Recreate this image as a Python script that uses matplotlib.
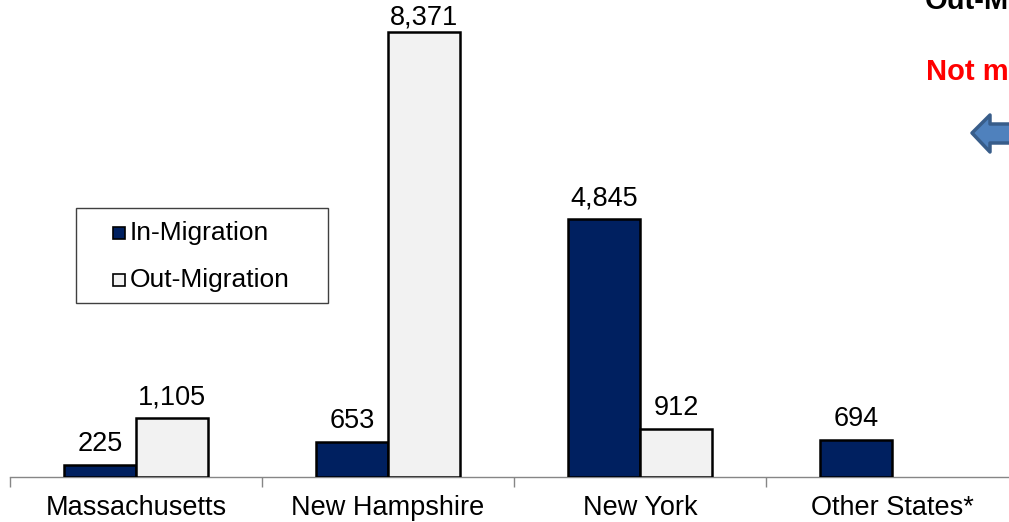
import numpy as np
import matplotlib
matplotlib.use("Agg")
import matplotlib.pyplot as plt
from matplotlib.patches import Rectangle, Polygon

categories = ["Massachusetts", "New Hampshire", "New York", "Other States*"]
in_migration = [225, 653, 4845, 694]
out_migration = [1105, 8371, 912, np.nan]
series_names = ["In-Migration", "Out-Migration"]

plt.rcParams['font.family'] = ['Liberation Sans', 'DejaVu Sans']

W, H = 1009, 522
fig = plt.figure(figsize=(W / 100, H / 100), dpi=100)
fig.patch.set_facecolor('white')

def fx(px):
    return px / W

def fy(py):
    return 1 - py / H

ax = fig.add_axes([fx(10), 45 / H, 1008 / W, 478.4 / H])
ax.set_xlim(-0.5, 3.5)
ax.set_ylim(0, 9000)

navy = '#002060'
light = '#F2F2F2'
bw = 72 / 252
x = np.arange(len(categories))

bars_in = ax.bar(x - bw / 2, in_migration, width=bw, color=navy,
                 edgecolor='black', linewidth=1.8, zorder=3)
bars_out = ax.bar(x + bw / 2, out_migration, width=bw, color=light,
                  edgecolor='black', linewidth=1.8, zorder=3)

vmax = np.nanmax(out_migration + in_migration)
for bars, vals in ((bars_in, in_migration), (bars_out, out_migration)):
    for b, v in zip(bars, vals):
        if np.isnan(v):
            continue
        off = 2 if v == vmax else 8
        ax.annotate(f"{int(v):,}", (b.get_x() + b.get_width() / 2, v),
                    xytext=(0, off), textcoords='offset pixels',
                    ha='center', va='bottom', fontsize=19.5, color='black',
                    annotation_clip=False)

for s in ('top', 'left', 'right'):
    ax.spines[s].set_visible(False)
ax.spines['bottom'].set_color('#868686')
ax.spines['bottom'].set_linewidth(1.0)
ax.set_yticks([])
ax.set_xticks(x)
ax.set_xticklabels(categories, fontsize=19.5)
ax.tick_params(axis='x', which='major', length=0, pad=13)
ax.set_xticks(np.arange(-0.5, 4.0, 1.0), minor=True)
ax.tick_params(axis='x', which='minor', length=7.5, width=1.0, color='#868686')

# legend (manual)
fig.patches.append(Rectangle((fx(76), fy(303)), fx(328) - fx(76), fy(208) - fy(303),
                             transform=fig.transFigure, facecolor='white',
                             edgecolor='#404040', linewidth=1.0, zorder=5))
for i, (name, col) in enumerate(zip(series_names, [navy, light])):
    cy = 233 + i * 47
    fig.patches.append(Rectangle((fx(113), fy(cy + 6)), fx(125) - fx(113), fy(cy - 6) - fy(cy + 6),
                                 transform=fig.transFigure, facecolor=col,
                                 edgecolor='black', linewidth=1.2, zorder=6))
    fig.text(fx(130), fy(cy), name, fontsize=19, va='center', ha='left', zorder=6)

# annotations at top right (partially outside the reference's frame)
fig.text(fx(925), fy(9), "Out-M", fontsize=21, fontweight='bold',
         color='black', ha='left', va='baseline')
fig.text(fx(926), fy(80), "Not m", fontsize=21, fontweight='bold',
         color='#FF0000', ha='left', va='baseline')

pts = [(972, 133), (990, 115), (990, 124), (1020, 124), (1020, 143), (990, 143), (990, 152)]
fig.patches.append(Polygon([(fx(a), fy(b)) for a, b in pts], closed=True,
                           transform=fig.transFigure, facecolor='#4F81BD',
                           edgecolor='#385D8A', linewidth=2.5, joinstyle='round', zorder=5))

fig.savefig('out.png', dpi=100)
